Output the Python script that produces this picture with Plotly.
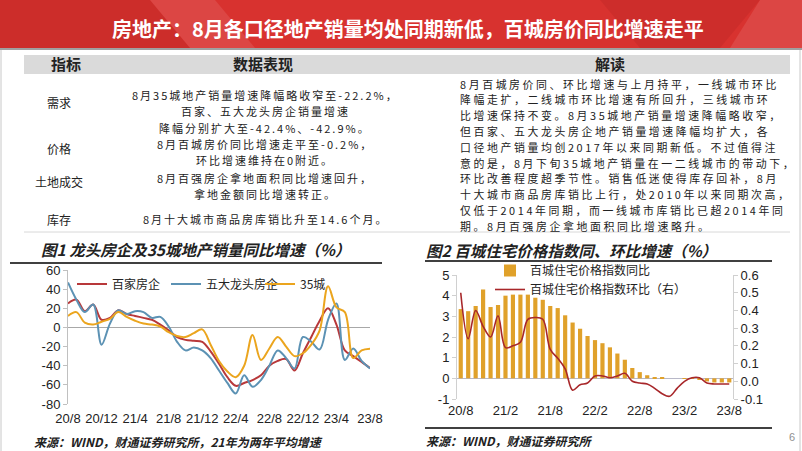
import plotly.graph_objects as go

W, H = 802, 451

# months 20/8 .. 23/8
months = ["20/8", "20/9", "20/10", "20/11", "20/12", "21/1", "21/2", "21/3", "21/4", "21/5",
          "21/6", "21/7", "21/8", "21/9", "21/10", "21/11", "21/12", "22/1", "22/2", "22/3",
          "22/4", "22/5", "22/6", "22/7", "22/8", "22/9", "22/10", "22/11", "22/12", "23/1",
          "23/2", "23/3", "23/4", "23/5", "23/6", "23/7", "23/8"]

# fig 1: sales yoy (%)
baijia = [25, 29, 17, 24, 8, 10, 18, 14, 12, 10, 8, 3, -3, -10, -13, -14, -15, -25, -38, -52,
          -61, -58, -55, -50, -40, -35, -33, -45, -27, -10, 7, 20, 3, -24, -30, -36, -42.4]
wuda = [47, 29, 16, 24, -18, 4, 18, 14, 17, 16, 10, 11, 1, -15, -24, -21, -24, -32, -45, -58,
        -69, -50, -62, -55, -40, -24, -32, -43, -10, -15, -23, 8, 25, -34, -22, -35, -42.9]
city35 = [12, 16, 5, 3, 6, 9, 16, 11, 7, 4, 3, 1, -5, -9, -10, -6, -2, -18, -35, -46,
          -52, -40, -8, -34, -22, -10, -20, -30, -27, -18, -3, 43, 21, 16, -32, -24, -22.2]

# fig 2: 100-city price index
tongbi = [3.35, 3.25, 3.5, 4.3, 3.45, 3.55, 4.0, 4.05, 4.05, 4.05, 3.9, 3.8, 3.5, 3.4, 3.05,
          2.7, 2.4, 2.05, 1.85, 1.7, 1.5, 1.2, 0.9, 0.5, 0.3, 0.15, 0.05, 0.02, 0.0, 0.0,
          -0.01, -0.02, -0.05, -0.15, -0.2, -0.2, -0.2]
huanbi = [0.50, 0.24, 0.40, 0.31, 0.25, 0.37, 0.19, 0.20, 0.22, 0.35, 0.36, 0.35, 0.18, 0.13,
          0.07, -0.05, -0.02, -0.01, 0.03, 0.03, 0.02, 0.03, 0.045, 0.0, -0.01, -0.015, -0.04,
          -0.07, -0.085, -0.04, 0.0, 0.02, 0.02, -0.01, -0.015, -0.015, -0.015]

y1_ticks = [60, 40, 20, 0, -20, -40, -60, -80]
y2_ticks = [5, 4, 3, 2, 1, 0, -1]
y3_ticks = [0.6, 0.5, 0.4, 0.3, 0.2, 0.1, 0.0, -0.1]

title = "房地产：8月各口径地产销量均处同期新低，百城房价同比增速走平"
row_labels = ["需求", "价格", "土地成交", "库存"]
row_label_y = [102, 149, 181, 219]
data_lines = [
    "8月35城地产销量增速降幅略收窄至-22.2%，",
    "百家、五大龙头房企销量增速",
    "降幅分别扩大至-42.4%、-42.9%。",
    "8月百城房价同比增速走平至-0.2%，",
    "环比增速维持在0附近。",
    "8月百强房企拿地面积同比增速回升，",
    "拿地金额同比增速转正。",
    "8月十大城市商品房库销比升至14.6个月。",
]
data_line_y = [95, 111.3, 127.5, 143.7, 160, 177.5, 193.7, 218.5]
jiedu = [
    "8月百城房价同、环比增速与上月持平，一线城市环比",
    "降幅走扩，二线城市环比增速有所回升，三线城市环",
    "比增速保持不变。8月35城地产销量增速降幅略收窄，",
    "但百家、五大龙头房企地产销量增速降幅均扩大，各",
    "口径地产销量均创2017年以来同期新低。不过值得注",
    "意的是，8月下旬35城地产销量在一二线城市的带动下，",
    "环比改善程度超季节性。销售低迷使得库存回补，8月",
    "十大城市商品房库销比上行，处2010年以来同期次高，",
    "仅低于2014年同期，而一线城市库销比已超2014年同",
    "期。8月百强房企拿地面积同比增速略升。",
]

CJK = "Noto Sans CJK SC"
NUM = "Liberation Sans, Noto Sans CJK SC"


def px(x):
    return x / W


def py(y):
    return 1 - y / H


fig = go.Figure()

# chart 1
fig.add_trace(go.Scatter(x=months, y=baijia, name="百家房企", mode="lines",
                         line=dict(color="#B8383A", width=2, shape="spline"),
                         xaxis="x", yaxis="y", legend="legend"))
fig.add_trace(go.Scatter(x=months, y=wuda, name="五大龙头房企", mode="lines",
                         line=dict(color="#5C92B4", width=2, shape="spline"),
                         xaxis="x", yaxis="y", legend="legend"))
fig.add_trace(go.Scatter(x=months, y=city35, name="35城", mode="lines",
                         line=dict(color="#EBA51E", width=2, shape="spline"),
                         xaxis="x", yaxis="y", legend="legend"))

# chart 2
fig.add_trace(go.Bar(x=months, y=tongbi, name="百城住宅价格指数同比",
                     marker=dict(color="#E0A12A", line=dict(width=0)),
                     xaxis="x2", yaxis="y2", legend="legend2"))
fig.add_trace(go.Scatter(x=months, y=huanbi, name="百城住宅价格指数环比（右）", mode="lines",
                         line=dict(color="#A8272A", width=1.6, shape="spline"),
                         xaxis="x2", yaxis="y3", legend="legend2"))

shapes = []
# banner
shapes.append(dict(type="rect", xref="paper", yref="paper", x0=0, x1=1, y0=py(48), y1=1,
                   fillcolor="#D8322F", line=dict(width=0), layer="below"))
for pts, col in [
    ([(0, 0), (150, 0), (190, 48), (0, 48)], "rgba(150,20,20,0.18)"),
    ([(150, 0), (215, 0), (255, 48), (190, 48)], "rgba(255,255,255,0.10)"),
    ([(600, 0), (760, 0), (720, 48), (640, 48)], "rgba(150,20,20,0.15)"),
    ([(760, 0), (802, 0), (802, 48), (730, 48)], "rgba(255,255,255,0.10)"),
]:
    path = "M " + " L ".join(f"{px(a):.5f} {py(b):.5f}" for a, b in pts) + " Z"
    shapes.append(dict(type="path", xref="paper", yref="paper", path=path,
                       fillcolor=col, line=dict(width=0), layer="below"))
shapes.append(dict(type="line", xref="paper", yref="paper", x0=0, x1=1, y0=py(49), y1=py(49),
                   line=dict(color="#A0A0A0", width=2), layer="below"))
# slide side borders
for xx in (1, 800):
    shapes.append(dict(type="line", xref="paper", yref="paper", x0=px(xx), x1=px(xx),
                       y0=py(50), y1=py(451), line=dict(color="#C8C8C8", width=1), layer="below"))
# table header band
shapes.append(dict(type="rect", xref="paper", yref="paper", x0=px(24), x1=px(790),
                   y0=py(74), y1=py(55), fillcolor="#DADADA", line=dict(width=0), layer="below"))
shapes.append(dict(type="line", xref="paper", yref="paper", x0=px(24), x1=px(790),
                   y0=py(232), y1=py(232), line=dict(color="#D8D8D8", width=1), layer="below"))
# chart title underlines and footer rule
for x0, x1, yy in [(10, 382, 263), (425, 772, 261), (425, 772, 428)]:
    shapes.append(dict(type="line", xref="paper", yref="paper", x0=px(x0), x1=px(x1),
                       y0=py(yy), y1=py(yy), line=dict(color="#404040", width=2), layer="below"))

ann = []


def text(x, y, s, size, color="#222222", xanchor="center", family=CJK, bold=False,
         italic=False, spacing=None):
    if spacing:
        s = f"<span style='letter-spacing:{spacing}px'>{s}</span>"
    if bold:
        s = f"<b>{s}</b>"
    if italic:
        s = f"<i>{s}</i>"
    ann.append(dict(xref="paper", yref="paper", x=px(x), y=py(y), text=s, showarrow=False,
                    xanchor=xanchor, yanchor="middle", borderpad=0,
                    font=dict(family=family, size=size, color=color)))


text(408, 28, title, 20, color="white", bold=True)
text(66, 64, "指标", 15, bold=True)
text(263, 64, "数据表现", 15, bold=True)
text(610, 64, "解读", 15, bold=True)
for lab, ly in zip(row_labels, row_label_y):
    text(59, ly, lab, 12)
for s, yy in zip(data_lines, data_line_y):
    text(265, yy, s, 11, spacing=2.0)
for k, s in enumerate(jiedu):
    text(459, 83.5 + k * 15.8, s, 10.9, xanchor="left", spacing=2.6)

text(40, 249, "图1 龙头房企及35城地产销量同比增速（%）", 15.5, xanchor="left", bold=True, italic=True)
text(425, 250, "图2 百城住宅价格指数同、环比增速（%）", 15.5, xanchor="left", bold=True, italic=True)
text(33, 441, "来源：WIND，财通证券研究所，21年为两年平均增速", 12, xanchor="left", bold=True, italic=True)
text(425, 440, "来源：WIND，财通证券研究所", 12, xanchor="left", bold=True, italic=True)
text(792, 437, "6", 11, color="#909090", family=NUM)

tickfont = dict(family=NUM, size=13, color="#222222")

fig.update_layout(
    template="none",
    width=W, height=H, margin=dict(l=0, r=0, t=0, b=0, pad=0, autoexpand=False),
    paper_bgcolor="white", plot_bgcolor="rgba(0,0,0,0)",
    shapes=shapes, annotations=ann, bargap=0.44,
    xaxis=dict(domain=[px(68), px(370)], anchor="y", type="category", categoryarray=months,
               range=[0, 36], tickmode="array", tickvals=months[::4], ticktext=months[::4],
               showline=False, showgrid=False, zeroline=False, ticks="", tickfont=tickfont,
               ticklabelstandoff=5, automargin=False),
    yaxis=dict(domain=[py(404), py(270)], anchor="x", range=[-80, 60], tickmode="array",
               tickvals=y1_ticks, ticktext=[str(v) for v in y1_ticks], showgrid=False,
               showline=True, linecolor="#C0C0C0", ticks="outside", ticklen=4, tickcolor="#C0C0C0",
               zeroline=True, zerolinecolor="#A8A8A8", zerolinewidth=1, tickfont=tickfont,
               automargin=False),
    xaxis2=dict(domain=[px(457), px(733)], anchor="y2", type="category", categoryarray=months,
                range=[-0.5, 36.5], tickmode="array", tickvals=months[::6], ticktext=months[::6],
                showline=False, showgrid=False, zeroline=False, ticks="", tickfont=tickfont,
                ticklabelstandoff=2, automargin=False),
    yaxis2=dict(domain=[py(399), py(275)], anchor="x2", range=[-1, 5], tickmode="array",
                tickvals=y2_ticks, ticktext=[str(v) for v in y2_ticks], showgrid=False,
                showline=True, linecolor="#D0D0D0", ticks="outside", ticklen=4, tickcolor="#D0D0D0",
                zeroline=True, zerolinecolor="#B8B8C8", zerolinewidth=1, tickfont=tickfont,
                automargin=False),
    yaxis3=dict(domain=[py(399), py(275)], anchor="x2", overlaying="y2", side="right",
                range=[-0.1, 0.6], tickmode="array", tickvals=y3_ticks,
                ticktext=[f"{v:.1f}" for v in y3_ticks], showgrid=False, zeroline=False,
                showline=True, linecolor="#D0D0D0", ticks="outside", ticklen=4, tickcolor="#D0D0D0",
                tickfont=tickfont, automargin=False),
    legend=dict(orientation="h", x=px(72), y=py(284), xanchor="left", yanchor="middle",
                entrywidth=49, entrywidthmode="pixels", bgcolor="rgba(0,0,0,0)",
                font=dict(family=CJK, size=12, color="#222222")),
    legend2=dict(orientation="v", x=px(490), y=py(256), xanchor="left", yanchor="top",
                 bgcolor="rgba(0,0,0,0)", tracegroupgap=0,
                 font=dict(family=CJK, size=12, color="#222222")),
)

fig.write_html("out.html", config={"displayModeBar": False},
               post_script="document.body.style.margin='0';")
